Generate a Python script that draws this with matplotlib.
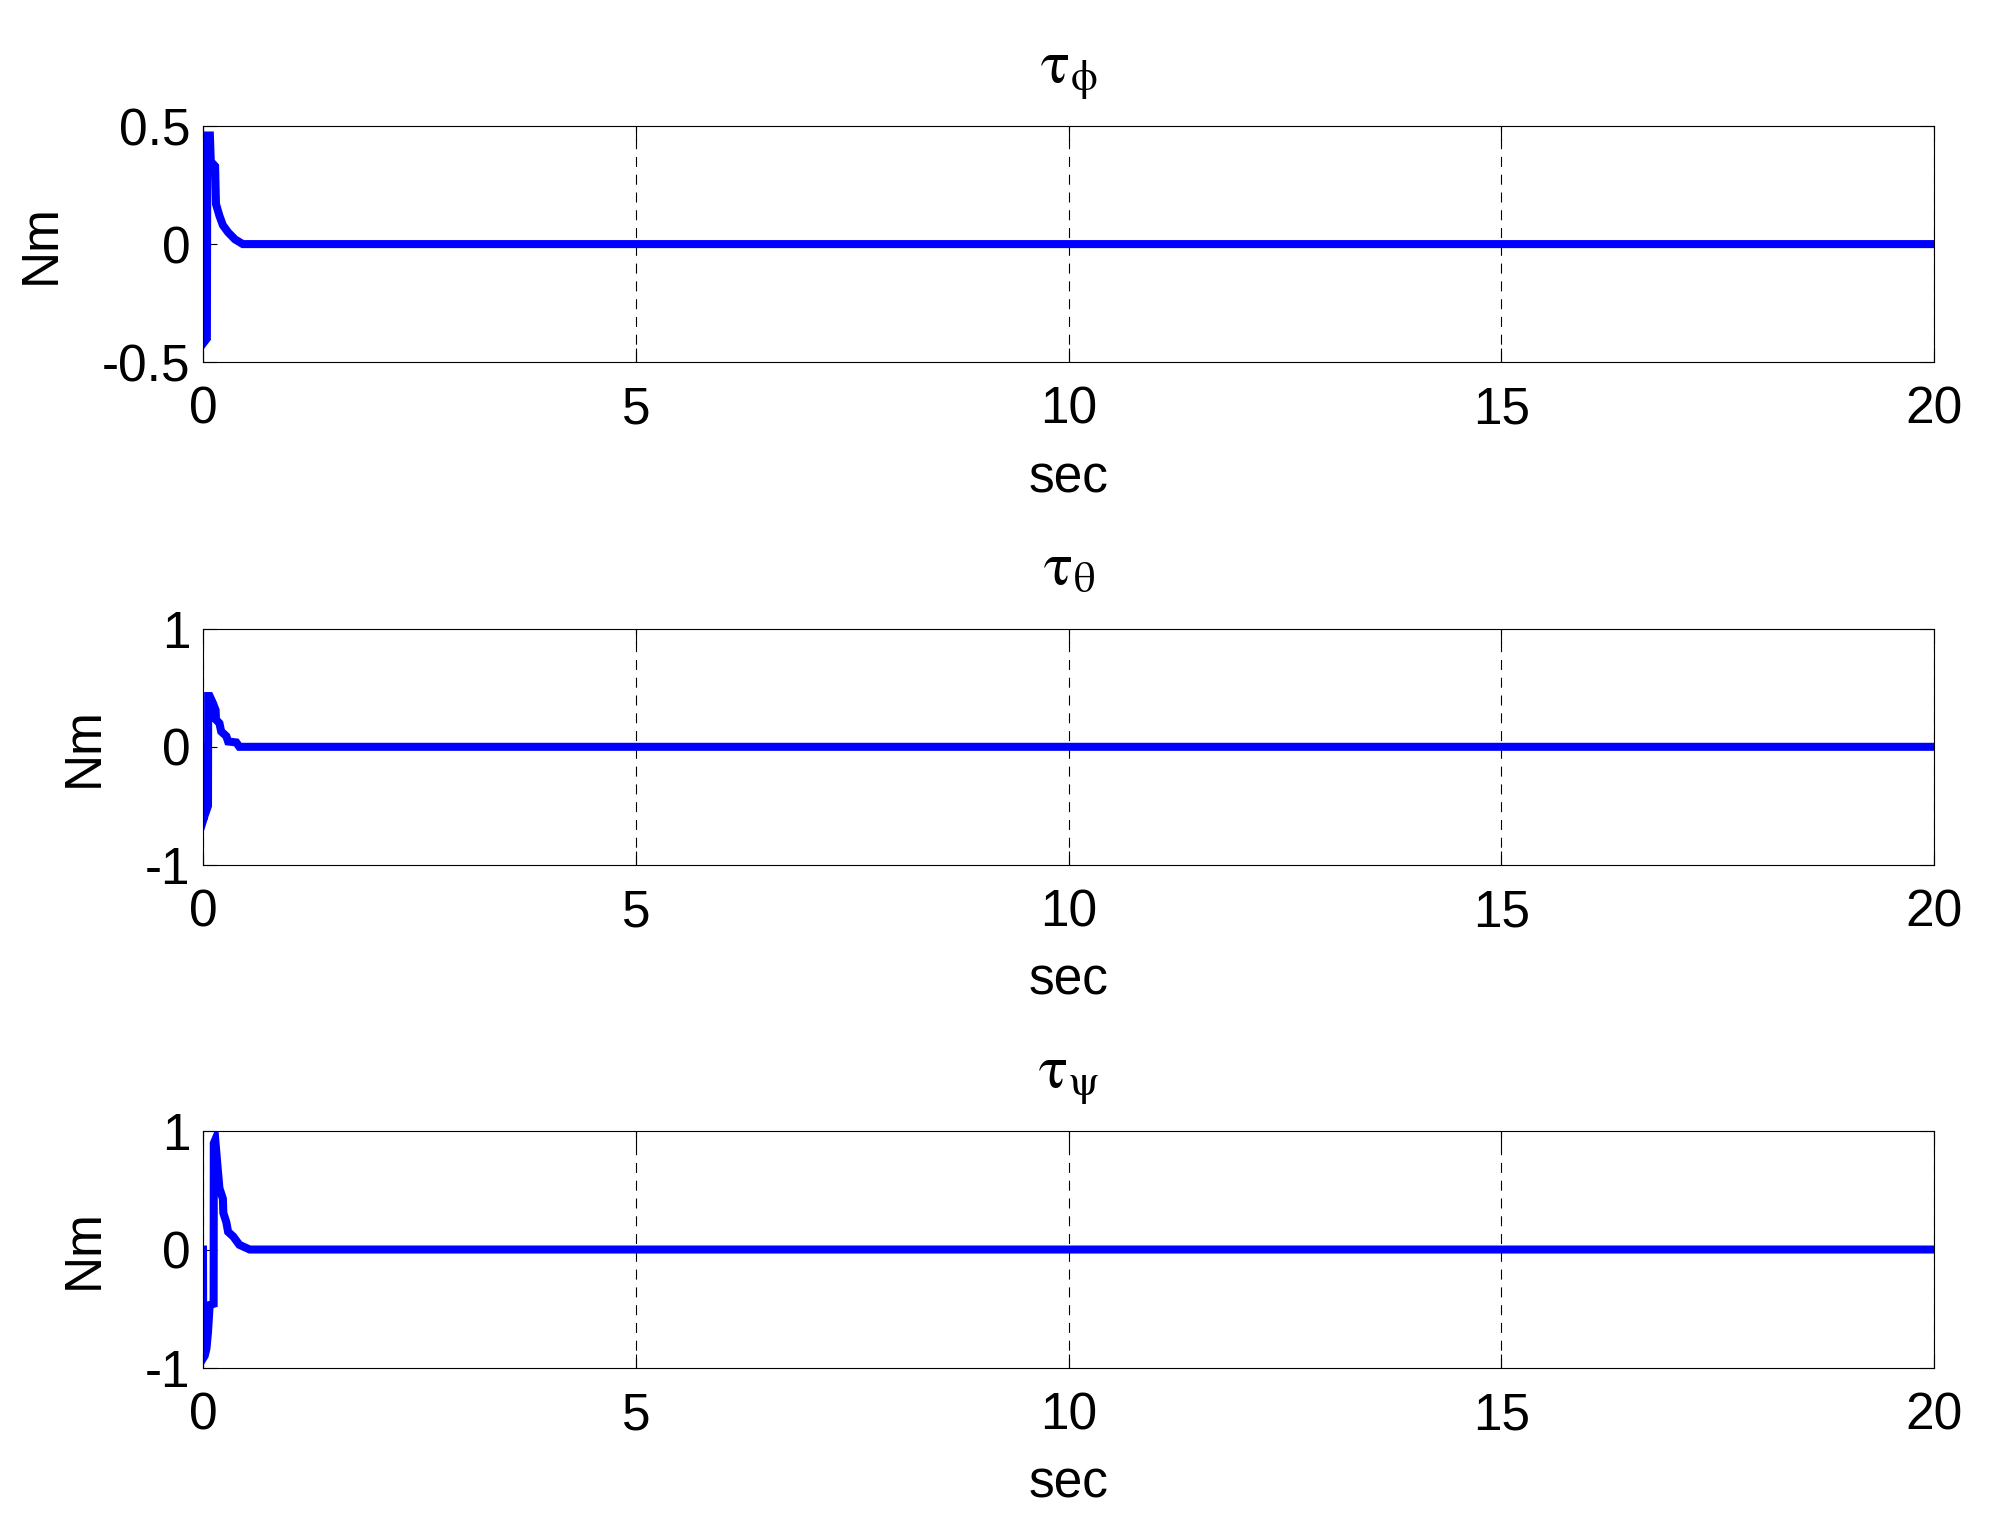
import numpy as np
import matplotlib
matplotlib.use('Agg')
import matplotlib.pyplot as plt

plt.rcParams['font.family'] = ['Liberation Sans', 'DejaVu Sans']
plt.rcParams['mathtext.fontset'] = 'stix'

# time samples for the transients (sec) (Nm)
t_phi = [0, 0.003, 0.045, 0.05, 0.08, 0.09, 0.14, 0.15, 0.19, 0.23, 0.29, 0.37, 0.46, 20]
tau_phi = [0, -0.42, -0.40, 0.46, 0.46, 0.35, 0.33, 0.17, 0.12, 0.08, 0.05, 0.02, 0, 0]

t_theta = [0, 0.003, 0.02, 0.058, 0.06, 0.077, 0.115, 0.146, 0.15, 0.19, 0.21, 0.27, 0.29, 0.385, 0.42, 20]
tau_theta = [0, -0.62, -0.58, -0.5, 0.43, 0.43, 0.37, 0.31, 0.23, 0.2, 0.13, 0.09, 0.045, 0.037, 0, 0]

t_psi = [0, 0.003, 0.02, 0.04, 0.058, 0.077, 0.123, 0.125, 0.142, 0.173, 0.19, 0.23, 0.235, 0.27, 0.29, 0.35, 0.42, 0.54, 20]
tau_psi = [0, -0.92, -0.90, -0.84, -0.70, -0.47, -0.46, 0.90, 0.93, 0.66, 0.52, 0.43, 0.31, 0.23, 0.15, 0.11, 0.04, 0, 0]

titles = [r'$\mathrm{\tau}_{\mathrm{\phi}}$', r'$\mathrm{\tau}_{\mathrm{\theta}}$', r'$\mathrm{\tau}_{\mathrm{\psi}}$']
series = [(t_phi, tau_phi), (t_theta, tau_theta), (t_psi, tau_psi)]
ylims = [(-0.5, 0.5), (-1, 1), (-1, 1)]
yticks = [[-0.5, 0, 0.5], [-1, 0, 1], [-1, 0, 1]]
ytlabels = [['-0.5', '0', '0.5'], ['-1', '0', '1'], ['-1', '0', '1']]
xticks = [0, 5, 10, 15, 20]

fig = plt.figure(figsize=(19.9, 15.28), dpi=100)
bottoms = [0.763, 0.434, 0.105]

for k in range(3):
    ax = fig.add_axes([0.102, bottoms[k], 0.870, 0.1545])
    tt, yy = series[k]
    ax.plot(tt, yy, color=(0, 0, 1), linewidth=5.8, solid_joinstyle='miter')
    ax.set_xlim(0, 20)
    ax.set_ylim(*ylims[k])
    ax.set_xticks(xticks)
    ax.set_xticklabels([str(x) for x in xticks])
    ax.set_yticks(yticks[k])
    ax.set_yticklabels(ytlabels[k])
    ax.tick_params(direction='in', length=10, width=0.8, labelsize=37,
                   top=True, right=True, pad=9)
    ax.tick_params(axis='x', pad=17)
    ax.xaxis.grid(True, color='black', linestyle=(0, (9, 7)), linewidth=0.8)
    for s in ax.spines.values():
        s.set_linewidth(0.8)
    ax.set_xlabel('sec', fontsize=37, labelpad=14)
    ax.set_ylabel('Nm', fontsize=37, labelpad=26)
    ax.set_title(titles[k], fontsize=44, pad=32)

fig.savefig('out.png', dpi=100)
